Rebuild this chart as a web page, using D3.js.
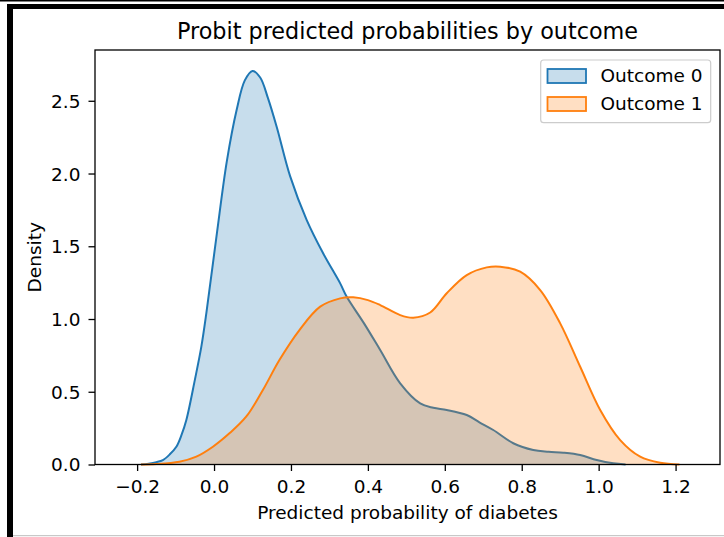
<!DOCTYPE html>
<html>
<head>
<meta charset="utf-8">
<script src="https://cdn.jsdelivr.net/npm/d3@7"></script>
<style>
  body { margin: 0; background: #fff; }
  svg { display: block; font-family: "DejaVu Sans", sans-serif; }
</style>
</head>
<body>
<svg id="svgCanvas" width="724" height="537"></svg>
<script>
// values
var xTicks = [-0.2, 0.0, 0.2, 0.4, 0.6, 0.8, 1.0, 1.2];
var yTicks = [0.0, 0.5, 1.0, 1.5, 2.0, 2.5];
var seriesNames = ["Outcome 0", "Outcome 1"];

var outcome0X = [-0.19, -0.17, -0.15, -0.133, -0.115, -0.098, -0.085, -0.072, -0.05, -0.033, -0.02, -0.007, 0.008, 0.033, 0.059, 0.08, 0.10, 0.12, 0.14, 0.163, 0.198, 0.241, 0.284, 0.328, 0.345, 0.39, 0.432, 0.484, 0.536, 0.57, 0.605, 0.657, 0.69, 0.726, 0.778, 0.83, 0.87, 0.908, 0.952, 0.995, 1.038, 1.07];
var outcome0Y = [0, 0.006, 0.016, 0.03, 0.07, 0.122, 0.2, 0.306, 0.58, 0.81, 1.04, 1.30, 1.60, 2.08, 2.44, 2.64, 2.705, 2.66, 2.52, 2.32, 1.98, 1.68, 1.45, 1.245, 1.153, 0.97, 0.787, 0.558, 0.42, 0.39, 0.375, 0.34, 0.29, 0.237, 0.146, 0.10, 0.088, 0.081, 0.065, 0.031, 0.008, 0];

var outcome1X = [-0.19, -0.15, -0.09, -0.046, -0.003, 0.04, 0.084, 0.127, 0.17, 0.222, 0.276, 0.328, 0.362, 0.40, 0.432, 0.484, 0.518, 0.562, 0.605, 0.657, 0.709, 0.744, 0.796, 0.848, 0.9, 0.952, 1.004, 1.056, 1.108, 1.16, 1.21];
var outcome1Y = [0, 0.003, 0.019, 0.054, 0.122, 0.214, 0.33, 0.512, 0.718, 0.924, 1.085, 1.142, 1.149, 1.13, 1.096, 1.027, 1.009, 1.045, 1.177, 1.302, 1.355, 1.36, 1.325, 1.199, 0.97, 0.672, 0.375, 0.168, 0.054, 0.012, 0];

var colors = ["#1f77b4", "#ff7f0e"];

var svg = d3.select("#svgCanvas");

// screenshot frame
svg.append("rect").attr("x", 0).attr("y", 0).attr("width", 724).attr("height", 1.5).attr("fill", "#000");
svg.append("rect").attr("x", 7).attr("y", 4).attr("width", 717).attr("height", 5).attr("fill", "#000");
svg.append("rect").attr("x", 7).attr("y", 4).attr("width", 6).attr("height", 533).attr("fill", "#000");
svg.append("rect").attr("x", 13).attr("y", 535).attr("width", 711).attr("height", 1.2).attr("fill", "#c8c8c8");

var plotL = 95, plotT = 50, plotR = 720, plotB = 464.5;
var tickFont = "18.5px";

var x = d3.scaleLinear().domain([-0.3095, 1.3155]).range([plotL, plotR]);
var y = d3.scaleLinear().domain([0, 2.849]).range([plotB, plotT]);

var area = d3.area()
  .x(function(d){ return x(d[0]); })
  .y0(y(0))
  .y1(function(d){ return y(Math.max(0, d[1])); })
  .curve(d3.curveCatmullRom.alpha(0.5));

var series = [
  d3.zip(outcome0X, outcome0Y),
  d3.zip(outcome1X, outcome1Y)
];

series.forEach(function(pts, i){
  svg.append("path")
    .attr("d", area(pts))
    .attr("fill", colors[i])
    .attr("fill-opacity", 0.25)
    .attr("stroke", "none");
  svg.append("path")
    .attr("d", area.lineY1()(pts))
    .attr("fill", "none")
    .attr("stroke", colors[i])
    .attr("stroke-width", 2);
});

// axes
var xAxis = d3.axisBottom(x).tickValues(xTicks).tickFormat(d3.format(".1f")).tickSize(6.5);
var yAxis = d3.axisLeft(y).tickValues(yTicks).tickFormat(d3.format(".1f")).tickSize(6.5).tickPadding(8);

var gx = svg.append("g").attr("transform", "translate(0," + plotB + ")").call(xAxis);
var gy = svg.append("g").attr("transform", "translate(" + plotL + ",0)").call(yAxis);
[gx, gy].forEach(function(g){
  g.select(".domain").remove();
  g.selectAll(".tick line").attr("stroke", "#000").attr("stroke-width", 1.3);
  g.selectAll(".tick text").attr("fill", "#000").style("font-size", tickFont).style("font-family", "DejaVu Sans");
});
gx.selectAll(".tick text").attr("y", 28.5).attr("dy", null);
gy.selectAll(".tick text").attr("dy", "0.35em");

svg.append("rect")
  .attr("x", plotL).attr("y", plotT)
  .attr("width", plotR - plotL).attr("height", plotB - plotT)
  .attr("fill", "none").attr("stroke", "#000").attr("stroke-width", 1.3);

// texts
svg.append("text")
  .attr("x", (plotL + plotR) / 2).attr("y", 39)
  .attr("text-anchor", "middle")
  .style("font-size", "22.3px")
  .text("Probit predicted probabilities by outcome");

svg.append("text")
  .attr("x", (plotL + plotR) / 2).attr("y", 519)
  .attr("text-anchor", "middle")
  .style("font-size", tickFont)
  .text("Predicted probability of diabetes");

svg.append("text")
  .attr("transform", "translate(41," + (plotT + plotB) / 2 + ") rotate(-90)")
  .attr("text-anchor", "middle")
  .style("font-size", tickFont)
  .text("Density");

// legend
var legend = svg.append("g");
legend.append("rect")
  .attr("x", 540.7).attr("y", 60).attr("width", 170).attr("height", 62.7)
  .attr("rx", 3).attr("fill", "#fff").attr("fill-opacity", 0.8)
  .attr("stroke", "#cccccc").attr("stroke-width", 1.2);
seriesNames.forEach(function(name, i){
  var ly = 69 + i * 28;
  legend.append("rect")
    .attr("x", 547.5).attr("y", ly).attr("width", 38.5).attr("height", 14)
    .attr("fill", colors[i]).attr("fill-opacity", 0.25)
    .attr("stroke", colors[i]).attr("stroke-width", 1.8);
  legend.append("text")
    .attr("x", 600.5).attr("y", ly + 13)
    .style("font-size", tickFont)
    .text(name);
});
</script>
</body>
</html>
